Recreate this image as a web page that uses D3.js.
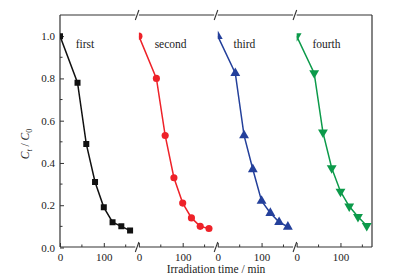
<!DOCTYPE html>
<html>
<head>
<meta charset="utf-8">
<script src="https://cdn.jsdelivr.net/npm/d3@7"></script>
<style>
  body { margin: 0; background: #fff; }
  svg text { font-family: "Liberation Serif", "DejaVu Serif", serif; fill: #222; }
</style>
</head>
<body>
<svg id="chart" width="394" height="280"></svg>
<script>
// runs of the photocatalysis cycle test
const runs = ["first", "second", "third", "fourth"];
const times = [0, 40, 60, 80, 100, 120, 140, 160];
const firstRun  = [1.0, 0.78, 0.49, 0.31, 0.19, 0.12, 0.10, 0.08];
const secondRun = [1.0, 0.80, 0.53, 0.33, 0.21, 0.14, 0.10, 0.09];
const thirdRun  = [1.0, 0.825, 0.53, 0.37, 0.22, 0.163, 0.12, 0.098];
const fourthRun = [1.0, 0.825, 0.545, 0.376, 0.265, 0.195, 0.145, 0.103];
const xTicks = [0, 100];
const xMinorTicks = [50, 150];
const yTicks = [0, 0.2, 0.4, 0.6, 0.8, 1.0];
const yMinorTicks = [0.1, 0.3, 0.5, 0.7, 0.9];

const seriesValues = [firstRun, secondRun, thirdRun, fourthRun];
const colors = ["#111111", "#ee2229", "#24409b", "#0c9a4a"];
const symbols = [d3.symbolSquare, d3.symbolCircle, d3.symbolTriangle, d3.symbolTriangle];
const symbolSizes = [36, 40, 42, 42];
const symbolRotate = [0, 0, 0, 180];

const margin = {top: 15, right: 22, bottom: 33, left: 60};
const width = 394, height = 280;
const innerBottom = height - margin.bottom;

let svg = d3.select("#chart");

let band = d3.scaleBand()
  .domain(runs)
  .range([margin.left, width - margin.right])
  .paddingInner(0.045)
  .paddingOuter(0);

let yScale = d3.scaleLinear().domain([0, 1.1]).range([innerBottom + 0.5, margin.top]);

let frameColor = "#333";

// y axis, ticks pointing inside
let yAxis = d3.axisLeft(yScale).tickValues(yTicks).tickSize(-4).tickPadding(5)
  .tickFormat(d3.format(".1f"));
let gy = svg.append("g")
  .attr("class", "axis-y")
  .attr("transform", "translate(" + margin.left + ",0)")
  .call(yAxis);
gy.select(".domain").remove();
gy.selectAll("line").attr("stroke", frameColor);
gy.selectAll("text").attr("font-size", 11).attr("fill", "#222");
gy.selectAll(".minor")
  .data(yMinorTicks)
  .enter()
  .append("line")
  .attr("x1", 0).attr("x2", 2.5)
  .attr("y1", function(d) { return yScale(d); })
  .attr("y2", function(d) { return yScale(d); })
  .attr("stroke", frameColor);

// left and right frame lines
svg.append("line")
  .attr("x1", margin.left).attr("x2", margin.left)
  .attr("y1", margin.top).attr("y2", innerBottom)
  .attr("stroke", frameColor).attr("stroke-width", 1.2);
svg.append("line")
  .attr("x1", width - margin.right).attr("x2", width - margin.right)
  .attr("y1", margin.top).attr("y2", innerBottom)
  .attr("stroke", frameColor).attr("stroke-width", 1.2);

let defs = svg.append("defs");

runs.forEach(function(run, i) {
  let x0 = band(run);
  let x1 = x0 + band.bandwidth();
  let xScale = d3.scaleLinear().domain([0, 172]).range([x0, x1]);

  // bottom axis for this segment
  let xAxis = d3.axisBottom(xScale).tickValues(xTicks).tickSize(-4).tickPadding(6);
  let gx = svg.append("g")
    .attr("class", "axis-x")
    .attr("transform", "translate(0," + innerBottom + ")")
    .call(xAxis);
  gx.select(".domain").remove();
  gx.selectAll("line").attr("stroke", frameColor);
  gx.selectAll("text").attr("font-size", 11).attr("fill", "#222");
  gx.selectAll(".minor")
    .data(xMinorTicks)
    .enter()
    .append("line")
    .attr("x1", function(d) { return xScale(d); })
    .attr("x2", function(d) { return xScale(d); })
    .attr("y1", 0).attr("y2", -2.5)
    .attr("stroke", frameColor);

  // top and bottom axis lines for this segment
  [margin.top, innerBottom].forEach(function(yy) {
    svg.append("line")
      .attr("x1", x0).attr("x2", x1)
      .attr("y1", yy).attr("y2", yy)
      .attr("stroke", frameColor).attr("stroke-width", 1.2);
    if (i < runs.length - 1) {
      let bx = x1 + (band.step() - band.bandwidth()) / 2;
      svg.append("line")
        .attr("x1", bx - 1.8).attr("x2", bx + 1.8)
        .attr("y1", yy + 5).attr("y2", yy - 5)
        .attr("stroke", frameColor).attr("stroke-width", 1.1);
    }
  });

  // clip marks to the segment
  defs.append("clipPath")
    .attr("id", "clip-" + i)
    .append("rect")
    .attr("x", x0).attr("y", margin.top)
    .attr("width", band.bandwidth() + 8)
    .attr("height", innerBottom - margin.top);

  let data = times.map(function(t, k) { return {t: t, v: seriesValues[i][k]}; });
  let g = svg.append("g").attr("clip-path", "url(#clip-" + i + ")");

  let line = d3.line()
    .x(function(d) { return xScale(d.t); })
    .y(function(d) { return yScale(d.v); });

  g.append("path")
    .datum(data)
    .attr("d", line)
    .attr("fill", "none")
    .attr("stroke", colors[i])
    .attr("stroke-width", 1.5);

  g.selectAll(".pt")
    .data(data)
    .enter()
    .append("path")
    .attr("class", "pt")
    .attr("d", d3.symbol().type(symbols[i]).size(symbolSizes[i]))
    .attr("transform", function(d) {
      return "translate(" + xScale(d.t) + "," + yScale(d.v) + ") rotate(" + symbolRotate[i] + ")";
    })
    .attr("fill", colors[i]);

  svg.append("text")
    .attr("x", xScale(36))
    .attr("y", yScale(0.945))
    .attr("font-size", 11.5)
    .text(run);
});

// axis titles
svg.append("text")
  .attr("x", (margin.left + width - margin.right) / 2)
  .attr("y", 273)
  .attr("text-anchor", "middle")
  .attr("font-size", 11.5)
  .text("Irradiation time / min");

let ylab = svg.append("text")
  .attr("transform", "translate(29,144) rotate(-90)")
  .attr("text-anchor", "middle")
  .attr("font-size", 11.5);
ylab.append("tspan").attr("font-style", "italic").text("C");
ylab.append("tspan").attr("font-size", 8).attr("font-style", "italic").attr("dy", 3).text("t");
ylab.append("tspan").attr("dy", -3).text(" / ");
ylab.append("tspan").attr("font-style", "italic").text("C");
ylab.append("tspan").attr("font-size", 8).attr("dy", 3).text("0");
</script>
</body>
</html>
